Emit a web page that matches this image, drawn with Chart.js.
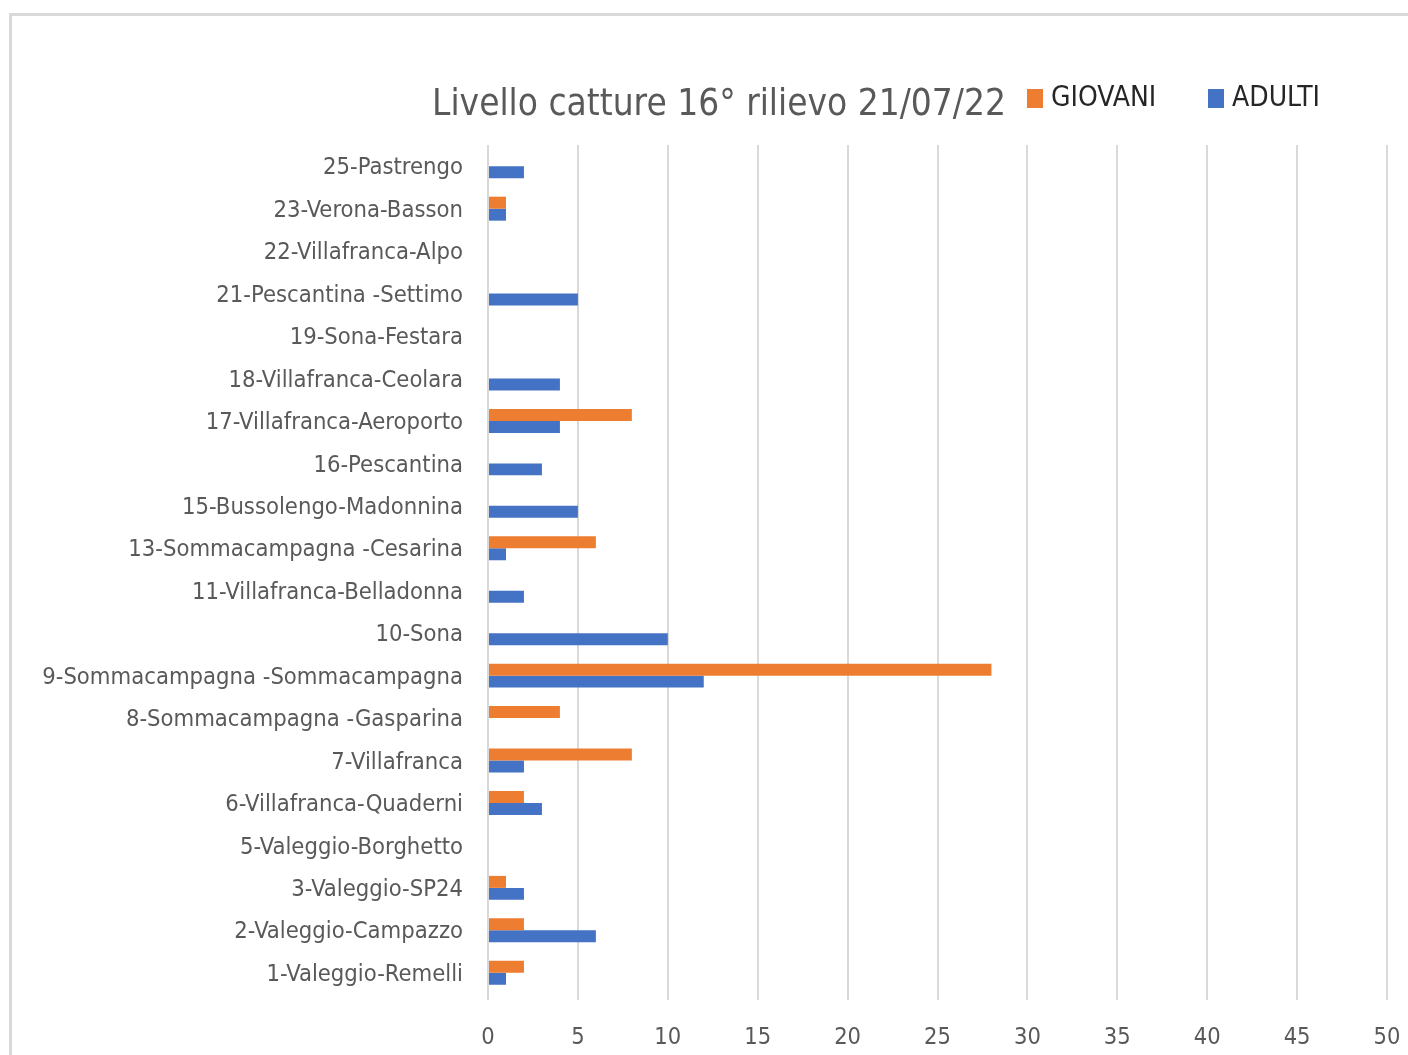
<!DOCTYPE html>
<html>
<head>
<meta charset="utf-8">
<script src="https://cdn.jsdelivr.net/npm/chart.js@4/dist/chart.umd.min.js"></script>
<style>
  html, body { margin: 0; padding: 0; background: #fff; }
  canvas { display: block; }
</style>
</head>
<body>
<canvas id="chart" width="1408" height="1055"></canvas>
<script>
/* ===== DATA ===== */
const stations = [
  "25-Pastrengo",
  "23-Verona-Basson",
  "22-Villafranca-Alpo",
  "21-Pescantina -Settimo",
  "19-Sona-Festara",
  "18-Villafranca-Ceolara",
  "17-Villafranca-Aeroporto",
  "16-Pescantina",
  "15-Bussolengo-Madonnina",
  "13-Sommacampagna -Cesarina",
  "11-Villafranca-Belladonna",
  "10-Sona",
  "9-Sommacampagna -Sommacampagna",
  "8-Sommacampagna -Gasparina",
  "7-Villafranca",
  "6-Villafranca-Quaderni",
  "5-Valeggio-Borghetto",
  "3-Valeggio-SP24",
  "2-Valeggio-Campazzo",
  "1-Valeggio-Remelli",
];
const giovani = [0, 1, 0, 0, 0, 0, 8, 0, 0, 6, 0, 0, 28, 4, 8, 2, 0, 1, 2, 2];
const adulti = [2, 1, 0, 5, 0, 4, 4, 3, 5, 1, 2, 10, 12, 0, 2, 3, 0, 2, 6, 1];

const TITLE = "Livello catture 16° rilievo 21/07/22";
const X_MIN = 0;
const X_MAX = 50;
const X_STEP = 5;

/* ===== STYLE ===== */
const FONT = "'DejaVu Sans Condensed', 'DejaVu Sans', sans-serif";
const GREY_TEXT = "#595959";
const GRID = "#d9d9d9";
Chart.defaults.font.family = FONT;

/* frame, title and legend on one line */
const decor = {
  id: "decor",
  beforeDraw(chart) {
    const ctx = chart.ctx;
    ctx.save();
    ctx.fillStyle = "#fff";
    ctx.fillRect(0, 0, chart.width, chart.height);
    ctx.fillStyle = GRID;
    ctx.fillRect(9, 13, chart.width, 3);
    ctx.fillRect(9, 13, 3, chart.height);
    ctx.restore();
  },
  afterDraw(chart) {
    const ctx = chart.ctx;
    ctx.save();
    ctx.fillStyle = GREY_TEXT;
    ctx.font = `36.7px ${FONT}`;
    ctx.textAlign = "center";
    ctx.textBaseline = "middle";
    ctx.fillText(TITLE, 719, 105);

    const xs = [1027, 1208];
    ctx.font = `28px ${FONT}`;
    ctx.textAlign = "left";
    chart.data.datasets.forEach((ds, i) => {
      ctx.fillStyle = ds.backgroundColor;
      ctx.fillRect(xs[i], 89, 16, 19);
      ctx.fillStyle = "#262626";
      ctx.fillText(ds.label, xs[i] + 24, 99);
    });
    ctx.restore();
  },
};

/* ===== CHART ===== */
new Chart(document.getElementById("chart"), {
  type: "bar",
  data: {
    labels: stations,
    datasets: [
      { label: "GIOVANI", data: giovani, backgroundColor: "#ed7d31" },
      { label: "ADULTI", data: adulti, backgroundColor: "#4472c4" },
    ],
  },
  options: {
    indexAxis: "y",
    responsive: false,
    animation: false,
    categoryPercentage: 0.565,
    barPercentage: 1,
    layout: { padding: { left: 0, top: 145, right: 21, bottom: 0 } },
    plugins: {
      legend: { display: false },
      title: { display: false },
      tooltip: { enabled: false },
    },
    scales: {
      x: {
        min: X_MIN,
        max: X_MAX,
        ticks: { stepSize: X_STEP, color: GREY_TEXT, font: { size: 23.5 }, padding: 24 },
        grid: { color: GRID, lineWidth: 2, tickLength: 6 },
        border: { display: false },
        afterFit: (s) => {
          s.height = 61;
          s.paddingLeft = 0;
          s.paddingRight = 0;
        },
      },
      y: {
        ticks: { color: GREY_TEXT, font: { size: 23.6 }, padding: 25, labelOffset: 2, autoSkip: false },
        grid: { display: false, drawTicks: false },
        border: { display: false },
        afterFit: (s) => { s.width = 488; },
      },
    },
  },
  plugins: [decor],
});
</script>
</body>
</html>
